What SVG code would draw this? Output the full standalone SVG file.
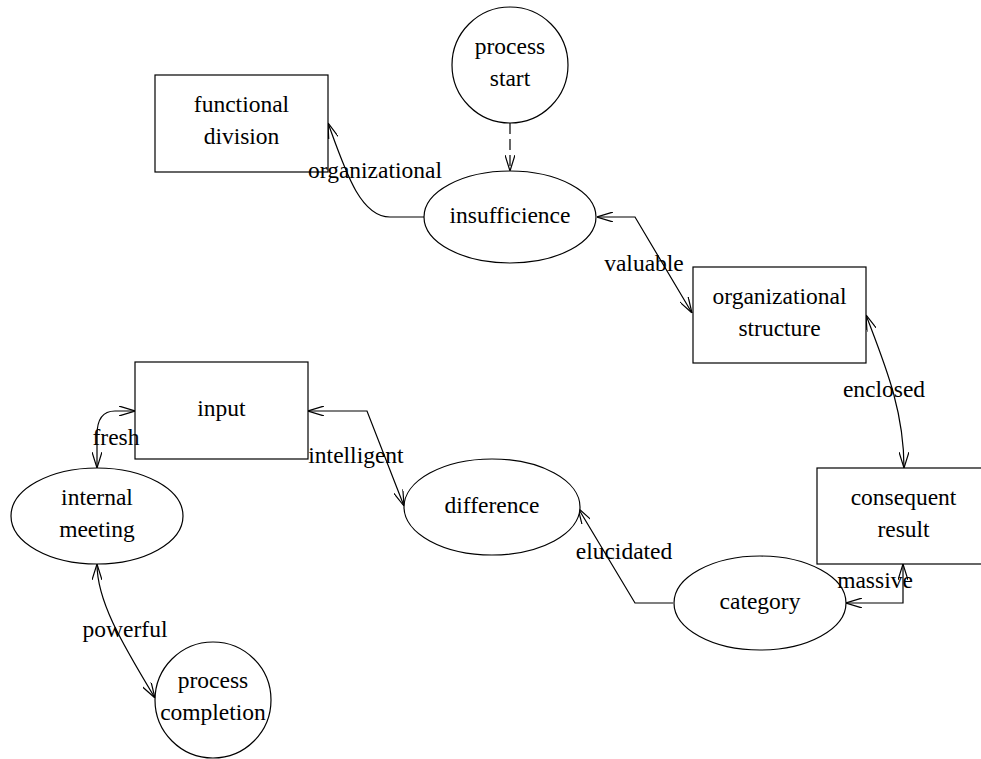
<svg xmlns="http://www.w3.org/2000/svg" width="981" height="759" viewBox="0 0 981 759">
<style>
.n{fill:#fff;stroke:#000;stroke-width:1.2}
.t{font-family:'Liberation Serif','Times New Roman',Tinos,Times,'DejaVu Serif',serif;font-size:23.5px;fill:#000;text-anchor:middle}
.e{fill:none;stroke:#000;stroke-width:1.2}
.d{stroke-dasharray:11,5}
</style>
<defs>
<marker id="a" viewBox="0 0 16 10" refX="16" refY="5" markerWidth="16" markerHeight="10" markerUnits="userSpaceOnUse" orient="auto-start-reverse">
<path d="M0,0 L16,5 L0,10" fill="none" stroke="#000" stroke-width="1.2"/>
</marker>
</defs>
<rect width="981" height="759" fill="#fff"/>
<g id="connectors">
<path class="e d" d="M510,123 L510,171" marker-end="url(#a)"/>
<path class="e" d="M424,217 L390,217 C360,217 345,170 328,123" marker-end="url(#a)"/>
<path class="e" d="M597,217 L635,217 L692,313" marker-start="url(#a)" marker-end="url(#a)"/>
<path class="e" d="M866,315 C885,365 904,410 904,468" marker-start="url(#a)" marker-end="url(#a)"/>
<path class="e" d="M903,564 L903,603 L846,603" marker-start="url(#a)" marker-end="url(#a)"/>
<path class="e" d="M673,603 L635,603 L578,508" marker-end="url(#a)"/>
<path class="e" d="M308,411 L367,411 L404,506" marker-start="url(#a)" marker-end="url(#a)"/>
<path class="e" d="M135,411 L115,411 C102,411 97,420 97,435 L97,468" marker-start="url(#a)" marker-end="url(#a)"/>
<path class="e" d="M97,564 C97,600 120,640 155,698" marker-start="url(#a)" marker-end="url(#a)"/>
</g>
<g id="process-start">
<circle class="n" cx="510" cy="65" r="58"/>
<text class="t" x="510" y="54">process</text>
<text class="t" x="510" y="86">start</text>
</g>
<g id="functional-division">
<rect class="n" x="155" y="75" width="173" height="97"/>
<text class="t" x="241.5" y="112">functional</text>
<text class="t" x="241.5" y="144">division</text>
</g>
<g id="insufficience">
<ellipse class="n" cx="510" cy="217" rx="86" ry="46"/>
<text class="t" x="510" y="223">insufficience</text>
</g>
<g id="organizational-structure">
<rect class="n" x="693" y="267" width="173" height="96"/>
<text class="t" x="779.5" y="304">organizational</text>
<text class="t" x="779.5" y="336">structure</text>
</g>
<g id="consequent-result">
<rect class="n" x="817" y="468" width="173" height="96"/>
<text class="t" x="903.5" y="505">consequent</text>
<text class="t" x="903.5" y="537">result</text>
</g>
<g id="category">
<ellipse class="n" cx="760" cy="603" rx="86" ry="47"/>
<text class="t" x="760" y="609">category</text>
</g>
<g id="difference">
<ellipse class="n" cx="492" cy="507" rx="88" ry="48"/>
<text class="t" x="492" y="513">difference</text>
</g>
<g id="input">
<rect class="n" x="135" y="362" width="173" height="97"/>
<text class="t" x="221.5" y="416">input</text>
</g>
<g id="internal-meeting">
<ellipse class="n" cx="97" cy="516" rx="86" ry="48"/>
<text class="t" x="97" y="505">internal</text>
<text class="t" x="97" y="537">meeting</text>
</g>
<g id="process-completion">
<circle class="n" cx="213" cy="700" r="58"/>
<text class="t" x="213" y="688">process</text>
<text class="t" x="213" y="720">completion</text>
</g>
<g id="edge-labels">
<text class="t" x="375" y="178">organizational</text>
<text class="t" x="644" y="271">valuable</text>
<text class="t" x="884" y="397">enclosed</text>
<text class="t" x="875" y="588">massive</text>
<text class="t" x="624" y="559">elucidated</text>
<text class="t" x="356" y="463">intelligent</text>
<text class="t" x="116" y="445">fresh</text>
<text class="t" x="125" y="637">powerful</text>
</g>
</svg>
